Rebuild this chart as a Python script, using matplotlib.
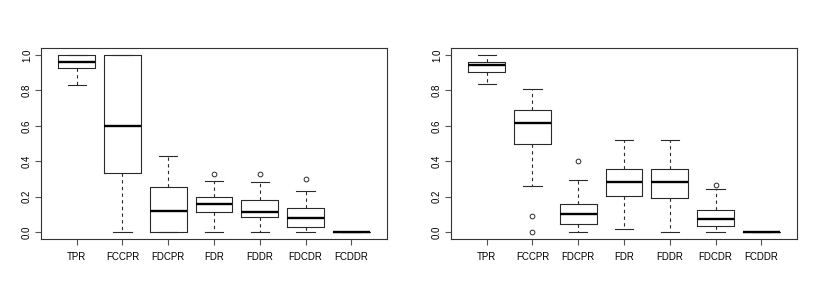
import matplotlib
matplotlib.use("Agg")
import matplotlib.pyplot as plt

plt.rcParams['font.family'] = ['Liberation Sans', 'DejaVu Sans']

labels = ['TPR', 'FCCPR', 'FDCPR', 'FDR', 'FDDR', 'FDCDR', 'FCDDR']

# Left panel: whislo, q1, med, q3, whishi, outliers
left_whislo = [0.829, 0.0, 0.0, 0.0, 0.0, 0.0, 0.0]
left_q1 = [0.927, 0.333, 0.0, 0.113, 0.087, 0.028, 0.0]
left_med = [0.960, 0.601, 0.120, 0.158, 0.115, 0.081, 0.0]
left_q3 = [1.0, 1.0, 0.252, 0.196, 0.179, 0.134, 0.0]
left_whishi = [1.0, 1.0, 0.427, 0.290, 0.281, 0.234, 0.0]
left_fliers = [[], [], [], [0.328], [0.328], [0.299], []]

# Right panel
right_whislo = [0.836, 0.260, 0.0, 0.019, 0.0, 0.0, 0.0]
right_q1 = [0.904, 0.499, 0.045, 0.203, 0.194, 0.032, 0.0]
right_med = [0.945, 0.614, 0.102, 0.282, 0.282, 0.072, 0.0]
right_q3 = [0.960, 0.689, 0.156, 0.356, 0.356, 0.124, 0.0]
right_whishi = [1.0, 0.810, 0.294, 0.518, 0.518, 0.243, 0.0]
right_fliers = [[], [0.089, 0.0], [0.399], [], [], [0.267], []]


def make_stats(whislo, q1, med, q3, whishi, fliers):
    stats = []
    for i in range(len(labels)):
        stats.append({
            'label': labels[i],
            'whislo': whislo[i], 'q1': q1[i], 'med': med[i],
            'q3': q3[i], 'whishi': whishi[i], 'fliers': fliers[i],
        })
    return stats


def draw_panel(ax, stats):
    lc = '#2a2a2a'
    ax.bxp(stats, positions=range(1, len(stats) + 1), widths=0.8,
           showfliers=True,
           boxprops=dict(color=lc, linewidth=0.8),
           whiskerprops=dict(color=lc, linewidth=0.8, linestyle=(0, (3, 3))),
           capprops=dict(color=lc, linewidth=0.8),
           capwidths=0.4,
           medianprops=dict(color='black', linewidth=1.7, solid_capstyle='butt'),
           flierprops=dict(marker='o', markersize=3.4, markerfacecolor='none',
                           markeredgecolor=lc, markeredgewidth=0.7))
    ax.set_xlim(0.22, 7.78)
    ax.set_ylim(-0.04, 1.04)
    ax.set_yticks([0.0, 0.2, 0.4, 0.6, 0.8, 1.0])
    ax.set_yticklabels(['0.0', '0.2', '0.4', '0.6', '0.8', '1.0'],
                       rotation=90, va='center')
    ax.tick_params(axis='both', labelsize=7, length=4.5, width=0.8,
                   color='#555555')
    ax.tick_params(axis='y', pad=2)
    ax.tick_params(axis='x', pad=5)
    for sp in ax.spines.values():
        sp.set_color('#333333')
        sp.set_linewidth(0.8)


fig = plt.figure(figsize=(8.17, 3.0), dpi=100)
ax1 = fig.add_axes([41 / 817, 61 / 300, 346 / 817, 191 / 300])
ax2 = fig.add_axes([451 / 817, 61 / 300, 346 / 817, 191 / 300])

draw_panel(ax1, make_stats(left_whislo, left_q1, left_med, left_q3, left_whishi, left_fliers))
draw_panel(ax2, make_stats(right_whislo, right_q1, right_med, right_q3, right_whishi, right_fliers))

fig.savefig('out.png', dpi=100)
